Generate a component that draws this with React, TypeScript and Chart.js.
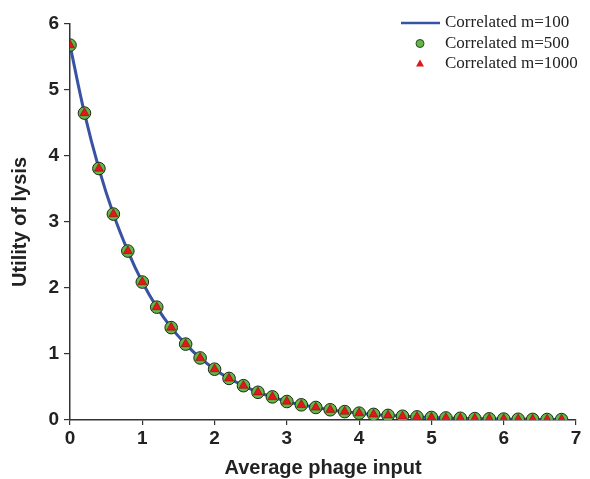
import React, { useEffect, useRef } from "react";
import { Chart, registerables } from "chart.js";

Chart.register(...registerables);

const xValues = [0, 0.2, 0.4, 0.6, 0.8, 1.0, 1.2, 1.4, 1.6, 1.8, 2.0, 2.2, 2.4, 2.6, 2.8, 3.0, 3.2, 3.4, 3.6, 3.8, 4.0, 4.2, 4.4, 4.6, 4.8, 5.0, 5.2, 5.4, 5.6, 5.8, 6.0, 6.2, 6.4, 6.6, 6.8];
const utilityM100 = [5.68, 4.65, 3.81, 3.12, 2.56, 2.09, 1.71, 1.4, 1.15, 0.94, 0.77, 0.63, 0.52, 0.42, 0.35, 0.28, 0.23, 0.19, 0.155, 0.127, 0.104, 0.085, 0.07, 0.057, 0.047, 0.038, 0.031, 0.026, 0.021, 0.017, 0.014, 0.011, 0.009, 0.0076, 0.0062];
const utilityM500 = [5.68, 4.65, 3.81, 3.12, 2.56, 2.09, 1.71, 1.4, 1.15, 0.94, 0.77, 0.63, 0.52, 0.42, 0.35, 0.28, 0.23, 0.19, 0.155, 0.127, 0.104, 0.085, 0.07, 0.057, 0.047, 0.038, 0.031, 0.026, 0.021, 0.017, 0.014, 0.011, 0.009, 0.0076, 0.0062];
const utilityM1000 = [5.68, 4.65, 3.81, 3.12, 2.56, 2.09, 1.71, 1.4, 1.15, 0.94, 0.77, 0.63, 0.52, 0.42, 0.35, 0.28, 0.23, 0.19, 0.155, 0.127, 0.104, 0.085, 0.07, 0.057, 0.047, 0.038, 0.031, 0.026, 0.021, 0.017, 0.014, 0.011, 0.009, 0.0076, 0.0062];
const seriesLabels = ["Correlated m=100", "Correlated m=500", "Correlated m=1000"];
const xTicks = [0, 1, 2, 3, 4, 5, 6, 7];
const yTicks = [0, 1, 2, 3, 4, 5, 6];

const BLUE = "#3953a4";
const GREEN = "#62b846";
const RED = "#e3161d";
const AXIS = "#333333";
const SANS = "'Liberation Sans', Arial, sans-serif";

const toPoints = (ys: number[]) => xValues.map((x, i) => ({ x, y: ys[i] }));

const legendPlugin = {
  id: "customLegend",
  afterDraw(chart: any) {
    const ctx = chart.ctx;
    const ds = chart.data.datasets;
    ctx.save();
    ctx.font = "17px 'Liberation Serif', 'Times New Roman', serif";
    ctx.textBaseline = "middle";
    const rows = [23, 43.5, 63.5];
    const textX = 445;
    ctx.strokeStyle = BLUE;
    ctx.lineWidth = 2.5;
    ctx.beginPath();
    ctx.moveTo(401, rows[0]);
    ctx.lineTo(440, rows[0]);
    ctx.stroke();
    ctx.beginPath();
    ctx.arc(420, rows[1], 4, 0, Math.PI * 2);
    ctx.fillStyle = GREEN;
    ctx.fill();
    ctx.strokeStyle = "#2a4a20";
    ctx.lineWidth = 1;
    ctx.stroke();
    ctx.beginPath();
    ctx.moveTo(420, rows[2] - 4);
    ctx.lineTo(424, rows[2] + 3);
    ctx.lineTo(416, rows[2] + 3);
    ctx.closePath();
    ctx.fillStyle = RED;
    ctx.fill();
    ctx.fillStyle = "#222";
    for (let i = 0; i < ds.length; i++) {
      ctx.fillText(ds[i].label, textX, rows[i]);
    }
    ctx.restore();
  },
};

export default function App() {
  const ref = useRef<HTMLCanvasElement | null>(null);
  useEffect(() => {
    if (!ref.current) return;
    const chart = new Chart(ref.current, {
      type: "line",
      data: {
        datasets: [
          {
            label: seriesLabels[0],
            data: toPoints(utilityM100),
            borderColor: BLUE,
            backgroundColor: BLUE,
            borderWidth: 3,
            pointRadius: 0,
            tension: 0.4,
            order: 3,
          },
          {
            label: seriesLabels[1],
            data: toPoints(utilityM500),
            showLine: false,
            pointStyle: "circle",
            pointRadius: 6.3,
            pointBackgroundColor: GREEN,
            pointBorderColor: "#1e2a1a",
            pointBorderWidth: 1,
            order: 2,
          },
          {
            label: seriesLabels[2],
            data: toPoints(utilityM1000),
            showLine: false,
            pointStyle: "triangle",
            pointRadius: 5.3,
            pointBackgroundColor: RED,
            pointBorderColor: "#7a0a0a",
            pointBorderWidth: 0.5,
            order: 1,
          },
        ],
      },
      options: {
        animation: false,
        responsive: false,
        maintainAspectRatio: false,
        layout: { padding: { top: 24, right: 14, left: 0, bottom: 0 } },
        plugins: { legend: { display: false }, tooltip: { enabled: false } },
        scales: {
          x: {
            type: "linear",
            min: 0,
            max: 7,
            afterBuildTicks: (s: any) => {
              s.ticks = xTicks.map((v) => ({ value: v }));
            },
            afterFit: (s: any) => {
              s.height = 59;
            },
            border: { display: true, color: AXIS, width: 1.5 },
            grid: { display: true, drawOnChartArea: false, drawTicks: true, tickLength: 5, color: AXIS, lineWidth: 1.2 },
            ticks: {
              color: "#222",
              padding: 2,
              font: { family: SANS, size: 19, weight: "bold" },
              maxRotation: 0,
            },
            title: {
              display: true,
              text: "Average phage input",
              color: "#222",
              padding: { top: 4, bottom: -1 },
              font: { family: SANS, size: 20, weight: "bold" },
            },
          },
          y: {
            type: "linear",
            min: 0,
            max: 6,
            afterBuildTicks: (s: any) => {
              s.ticks = yTicks.map((v) => ({ value: v }));
            },
            afterFit: (s: any) => {
              s.width = 70;
            },
            border: { display: true, color: AXIS, width: 1.5 },
            grid: { display: true, drawOnChartArea: false, drawTicks: true, tickLength: 6, color: AXIS, lineWidth: 1.2 },
            ticks: {
              color: "#222",
              padding: 5,
              font: { family: SANS, size: 19, weight: "bold" },
            },
            title: {
              display: true,
              text: "Utility of lysis",
              color: "#222",
              padding: { top: 8, bottom: 4 },
              font: { family: SANS, size: 20, weight: "bold" },
            },
          },
        },
      },
      plugins: [legendPlugin],
    } as any);
    return () => chart.destroy();
  }, []);
  return (
    <div style={{ position: "fixed", left: 0, top: 0, width: 590, height: 479, background: "#fff" }}>
      <canvas ref={ref} width={590} height={479} style={{ width: 590, height: 479 }} />
    </div>
  );
}
